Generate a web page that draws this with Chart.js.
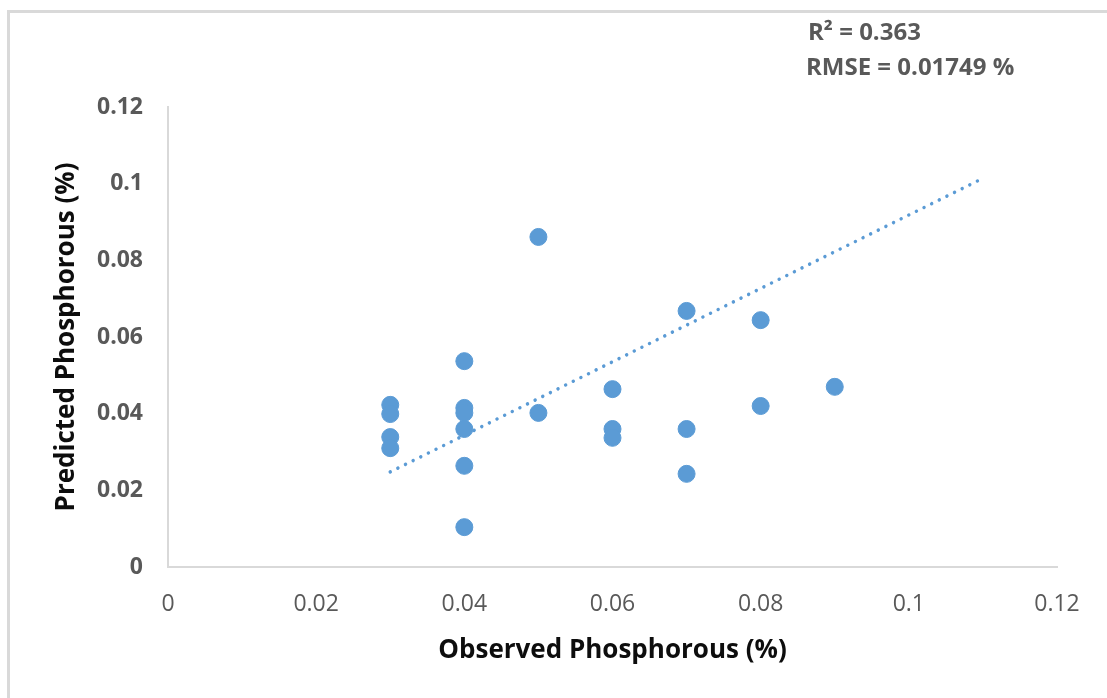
<!DOCTYPE html>
<html>
<head>
<meta charset="utf-8">
<script src="https://cdn.jsdelivr.net/npm/chart.js@4.4.1/dist/chart.umd.min.js"></script>
<style>
  html, body { margin: 0; padding: 0; background: #fff; }
  #wrap { position: relative; width: 1107px; height: 698px; overflow: hidden; }
  #frame {
    position: absolute; left: 7px; top: 10px; width: 1200px; height: 800px;
    border-top: 3px solid #d9d9d9; border-left: 3px solid #d9d9d9;
    pointer-events: none;
  }
  canvas { position: absolute; left: 0; top: 0; }
</style>
</head>
<body>
<div id="wrap">
  <canvas id="chart" width="1107" height="698"></canvas>
  <div id="frame"></div>
</div>
<script>
// observed vs predicted phosphorous (%)
var observed = [0.03, 0.03, 0.03, 0.03,
                0.04, 0.04, 0.04, 0.04, 0.04, 0.04,
                0.05, 0.05,
                0.06, 0.06, 0.06,
                0.07, 0.07, 0.07,
                0.08, 0.08,
                0.09];
var predicted = [0.0423, 0.0399, 0.0339, 0.0310,
                 0.0537, 0.0415, 0.0402, 0.0360, 0.0264, 0.0104,
                 0.0861, 0.0402,
                 0.0464, 0.0360, 0.0337,
                 0.0668, 0.0360, 0.0243,
                 0.0644, 0.0420,
                 0.0470];
// linear trendline end points
var trendX = [0.03, 0.11];
var trendY = [0.0248, 0.1014];
var xTicks = [0, 0.02, 0.04, 0.06, 0.08, 0.1, 0.12];
var yTicks = [0, 0.02, 0.04, 0.06, 0.08, 0.1, 0.12];
var statLines = ['R\u00B2 = 0.363', 'RMSE = 0.01749 %'];

var FONT = "'Open Sans', 'Noto Sans', sans-serif";

var scatterPts = observed.map(function (x, i) { return { x: x, y: predicted[i] }; });
var trendPts = trendX.map(function (x, i) { return { x: x, y: trendY[i] }; });

// stats text in the top right corner
var statsPlugin = {
  id: 'stats',
  afterDraw: function (chart) {
    var ctx = chart.ctx;
    ctx.save();
    ctx.fillStyle = '#595959';
    ctx.font = 'bold 24px ' + FONT;
    ctx.textBaseline = 'middle';
    ctx.textAlign = 'left';
    ctx.fillText(statLines[0], 808, 33);
    ctx.fillText(statLines[1], 806, 68);
    ctx.restore();
  }
};

new Chart(document.getElementById('chart'), {
  type: 'scatter',
  data: {
    datasets: [{
      label: 'Predicted',
      data: scatterPts,
      backgroundColor: '#5b9bd5',
      borderColor: '#5b9bd5',
      pointRadius: 8.5,
      pointHoverRadius: 8.5,
      order: 1
    }, {
      type: 'line',
      label: 'Trend',
      data: trendPts,
      borderColor: '#5b9bd5',
      borderWidth: 3.5,
      borderCapStyle: 'round',
      borderDash: [0.01, 8.5],
      pointRadius: 0,
      fill: false,
      order: 2
    }]
  },
  options: {
    responsive: false,
    animation: false,
    layout: { padding: { left: 0, right: 50, top: 107, bottom: 0 } },
    plugins: {
      legend: { display: false },
      tooltip: { enabled: false }
    },
    scales: {
      x: {
        type: 'linear',
        min: 0,
        max: 0.12,
        afterBuildTicks: function (axis) {
          axis.ticks = xTicks.map(function (v) { return { value: v }; });
        },
        afterFit: function (axis) { axis.height = 698 - 567; },
        grid: { display: false, drawTicks: false },
        border: { display: true, color: '#d9d9d9', width: 2 },
        ticks: {
          padding: 24,
          color: '#595959',
          font: { family: FONT, size: 23 },
          maxRotation: 0,
          callback: function (v) { return String(+v.toFixed(2)); }
        },
        title: {
          display: true,
          text: 'Observed Phosphorous (%)',
          color: '#0d0d0d',
          font: { family: FONT, size: 26, weight: 'bold' },
          padding: { top: 0, bottom: 32 }
        }
      },
      y: {
        type: 'linear',
        min: 0,
        max: 0.12,
        afterBuildTicks: function (axis) {
          axis.ticks = yTicks.map(function (v) { return { value: v }; });
        },
        afterFit: function (axis) { axis.width = 168; },
        grid: { display: false, drawTicks: false },
        border: { display: true, color: '#d9d9d9', width: 2 },
        ticks: {
          padding: 25,
          color: '#595959',
          font: { family: FONT, size: 23, weight: 'bold' },
          callback: function (v) { return String(+v.toFixed(2)); }
        },
        title: {
          display: true,
          text: 'Predicted Phosphorous (%)',
          color: '#0d0d0d',
          font: { family: FONT, size: 26, weight: 'bold' },
          padding: { top: 51, bottom: 0 }
        }
      }
    }
  },
  plugins: [statsPlugin]
});
</script>
</body>
</html>
